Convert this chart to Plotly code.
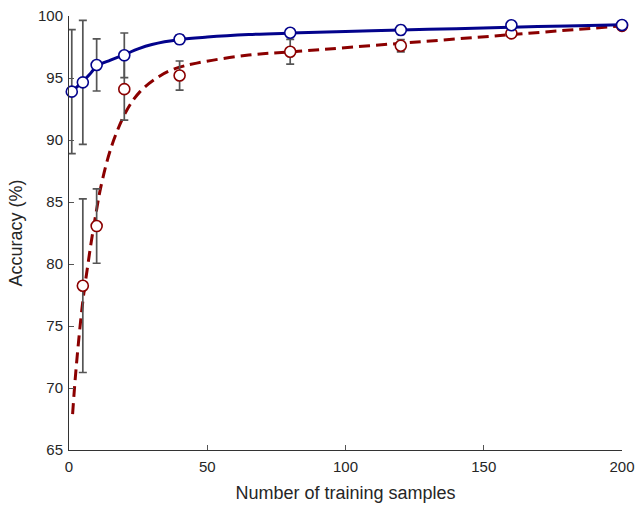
import plotly.graph_objects as go

# Measured points (mean accuracy, % and standard deviation)
samples_blue = [1, 5, 10, 20, 40, 80, 120, 160, 200]
acc_blue = [93.9, 94.65, 96.05, 96.83, 98.12, 98.65, 98.87, 99.25, 99.27]
err_blue = [5.0, 5.0, 2.1, 1.8, 0.35, 0.2, 0.35, 0.15, 0.1]

samples_red = [5, 10, 20, 40, 80, 120, 160, 200]
acc_red = [78.25, 83.06, 94.1, 95.2, 97.12, 97.6, 98.6, 99.2]
err_red = [7.0, 3.0, 2.5, 1.17, 1.0, 0.5, 0.15, 0.1]

# Fitted curves
fit_blue_x = [1, 3, 5, 7.5, 10, 15, 20, 25, 30, 40, 50, 65, 80, 100, 120, 140, 160, 180, 200]
fit_blue_y = [93.9, 94.3, 94.72, 95.3, 95.95, 96.45, 96.88, 97.35, 97.7, 98.1, 98.3, 98.5,
              98.62, 98.75, 98.87, 98.98, 99.1, 99.2, 99.3]

fit_red_x = [1.3, 2.2, 3.4, 5, 6.8, 8.2, 10, 11.5, 15.4, 20.9, 25.7, 31.7, 37.7, 46.2,
             65, 83, 120, 160, 200]
fit_red_y = [67.9, 70.6, 73.6, 77.0, 79.9, 82.0, 84.4, 86.2, 89.5, 92.4, 93.9, 95.0, 95.7,
             96.2, 96.85, 97.15, 97.8, 98.5, 99.2]

x_ticks = [0, 50, 100, 150, 200]
y_ticks = [65, 70, 75, 80, 85, 90, 95, 100]

BLUE = "#03038c"
RED = "#8b0000"
GRAY = "#555555"
FAMILY = "Liberation Sans, Arial, sans-serif"

fig = go.Figure()

fig.add_trace(go.Scatter(x=fit_red_x, y=fit_red_y, mode="lines", line_shape="spline",
                         line=dict(color=RED, width=3, dash="11px,6px"),
                         cliponaxis=False, showlegend=False, hoverinfo="skip"))
fig.add_trace(go.Scatter(x=fit_blue_x, y=fit_blue_y, mode="lines", line_shape="spline",
                         line=dict(color=BLUE, width=3),
                         cliponaxis=False, showlegend=False, hoverinfo="skip"))

fig.add_trace(go.Scatter(x=samples_red, y=acc_red, mode="markers",
                         marker=dict(symbol="circle", size=11, color="white",
                                     line=dict(color=RED, width=1.6)),
                         error_y=dict(type="data", array=err_red, color=GRAY,
                                      thickness=1.7, width=4),
                         cliponaxis=False, showlegend=False))
fig.add_trace(go.Scatter(x=samples_blue, y=acc_blue, mode="markers",
                         marker=dict(symbol="circle", size=11, color="white",
                                     line=dict(color=BLUE, width=1.6)),
                         error_y=dict(type="data", array=err_blue, color=GRAY,
                                      thickness=1.7, width=4),
                         cliponaxis=False, showlegend=False))

tick_font = dict(family=FAMILY, size=15, color="#262626")
title_font = dict(family=FAMILY, size=18, color="#262626")

fig.update_layout(
    width=635, height=509,
    margin=dict(l=69, r=13, t=16, b=59),
    paper_bgcolor="white", plot_bgcolor="white",
    font=tick_font,
    xaxis=dict(range=[0, 200], tickvals=x_ticks, ticks="inside", ticklen=5,
               tickcolor="#555555", tickwidth=1, showline=True, linecolor="#333333",
               linewidth=1, showgrid=False, zeroline=False, tickfont=tick_font,
               automargin=False, ticklabeloverflow="allow", ticklabelstandoff=3,
               title=dict(text="Number of training samples", standoff=12, font=title_font)),
    yaxis=dict(range=[65, 100], tickvals=y_ticks, ticks="inside", ticklen=5,
               tickcolor="#555555", tickwidth=1, showline=True, linecolor="#333333",
               linewidth=1, showgrid=False, zeroline=False, tickfont=tick_font,
               automargin=False, ticklabeloverflow="allow", ticklabelstandoff=2,
               title=dict(text="Accuracy (%)", standoff=10, font=title_font)),
)

fig.write_html(
    "out.html",
    config={"displayModeBar": False},
    post_script="document.body.style.margin='0';document.body.style.overflow='hidden';",
)
